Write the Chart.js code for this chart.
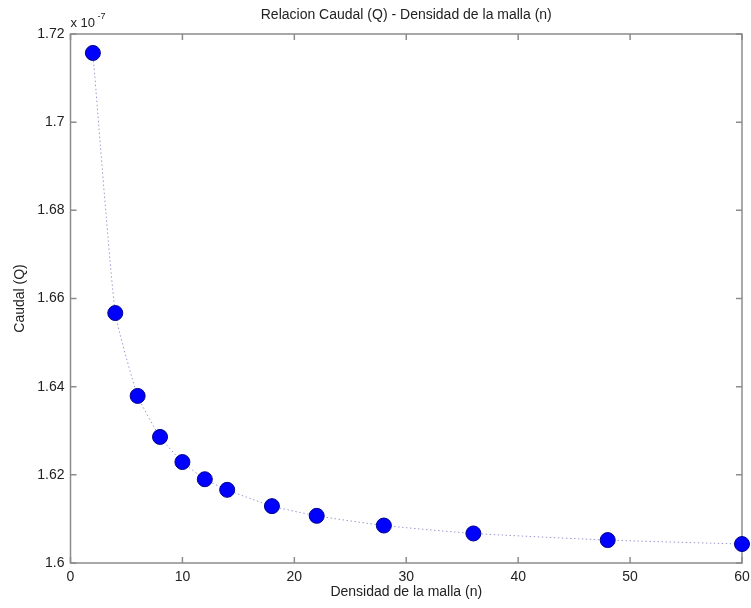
<!DOCTYPE html>
<html>
<head>
<meta charset="utf-8">
<script src="https://cdn.jsdelivr.net/npm/chart.js@4/dist/chart.umd.min.js"></script>
<style>
  html, body { margin: 0; padding: 0; background: #fff; }
  #wrap { width: 751px; height: 608px; }
</style>
</head>
<body>
<div id="wrap"><canvas id="caudalChart" width="751" height="608"></canvas></div>
<script>
// mesh density (n) and flow rate Q (in units of 1e-7)
const densidad = [2, 4, 6, 8, 10, 12, 14, 18, 22, 28, 36, 48, 60];
const caudal = [1.7157, 1.6567, 1.6379, 1.6286, 1.6229, 1.619, 1.6166, 1.6129, 1.6107, 1.6085, 1.6067, 1.6052, 1.6043];
const xTicks = [0, 10, 20, 30, 40, 50, 60];
const yTicks = [1.6, 1.62, 1.64, 1.66, 1.68, 1.7, 1.72];

const FONT = "'Liberation Sans', Arial, sans-serif";
const AXIS_COLOR = "#8c8c8c";

// MATLAB-like box with inward tick marks, title and exponent note
const boxPlugin = {
  id: "matlabBox",
  beforeDatasetsDraw(chart) {
    const { ctx, chartArea: a, scales } = chart;
    ctx.save();
    ctx.strokeStyle = AXIS_COLOR;
    ctx.lineWidth = 1.5;
    ctx.strokeRect(a.left, a.top, a.right - a.left, a.bottom - a.top);
    ctx.beginPath();
    xTicks.forEach((v) => {
      const px = scales.x.getPixelForValue(v);
      ctx.moveTo(px, a.bottom);
      ctx.lineTo(px, a.bottom - 6);
      ctx.moveTo(px, a.top);
      ctx.lineTo(px, a.top + 6);
    });
    yTicks.forEach((v) => {
      const py = scales.y.getPixelForValue(v);
      ctx.moveTo(a.left, py);
      ctx.lineTo(a.left + 6, py);
      ctx.moveTo(a.right, py);
      ctx.lineTo(a.right - 6, py);
    });
    ctx.stroke();
    ctx.restore();
  },
  afterDraw(chart) {
    const { ctx, chartArea: a } = chart;
    ctx.save();
    ctx.fillStyle = "#222";
    ctx.font = "14px " + FONT;
    ctx.textAlign = "center";
    ctx.textBaseline = "middle";
    ctx.fillText("Relacion Caudal (Q) - Densidad de la malla (n)", (a.left + a.right) / 2, 15);
    ctx.textAlign = "left";
    ctx.font = "13px " + FONT;
    ctx.fillText("x 10", a.left, 23);
    ctx.font = "9px " + FONT;
    ctx.fillText("-7", a.left + 27, 17);
    ctx.restore();
  },
};

new Chart(document.getElementById("caudalChart"), {
  type: "line",
  data: {
    datasets: [
      {
        label: "Caudal (Q)",
        data: densidad.map((n, i) => ({ x: n, y: caudal[i] })),
        borderColor: "#9a9ad0",
        borderWidth: 1,
        borderDash: [1.5, 2.5],
        tension: 0.15,
        pointRadius: 7.5,
        pointHoverRadius: 7.5,
        pointBackgroundColor: "#0000ff",
        pointBorderColor: "#00008a",
        pointBorderWidth: 1,
        clip: false,
        fill: false,
      },
    ],
  },
  plugins: [boxPlugin],
  options: {
    responsive: false,
    animation: false,
    devicePixelRatio: 1,
    layout: { padding: { top: 34, right: 9, left: 0, bottom: 0 } },
    plugins: {
      legend: { display: false },
      tooltip: { enabled: false },
    },
    scales: {
      x: {
        type: "linear",
        min: 0,
        max: 60,
        afterBuildTicks: (s) => { s.ticks = xTicks.map((v) => ({ value: v })); },
        afterFit: (s) => { s.height = 45; s.paddingLeft = 0; s.paddingRight = 0; },
        grid: { display: false, drawTicks: false },
        border: { display: false },
        ticks: { color: "#222", font: { family: FONT, size: 14 }, padding: 6, maxRotation: 0 },
        title: {
          display: true,
          text: "Densidad de la malla (n)",
          color: "#222",
          font: { family: FONT, size: 14 },
          padding: { top: 0, bottom: 7 },
        },
      },
      y: {
        type: "linear",
        min: 1.6,
        max: 1.72,
        afterBuildTicks: (s) => { s.ticks = yTicks.map((v) => ({ value: v })); },
        afterFit: (s) => { s.width = 70.5; s.paddingTop = 0; s.paddingBottom = 0; },
        grid: { display: false, drawTicks: false },
        border: { display: false },
        ticks: {
          color: "#222",
          font: { family: FONT, size: 14 },
          padding: 6,
          callback: (v) => String(Number(v.toFixed(2))),
        },
        title: {
          display: true,
          text: "Caudal (Q)",
          color: "#222",
          font: { family: FONT, size: 14 },
          padding: { top: 12, bottom: 0 },
        },
      },
    },
  },
});
</script>
</body>
</html>
